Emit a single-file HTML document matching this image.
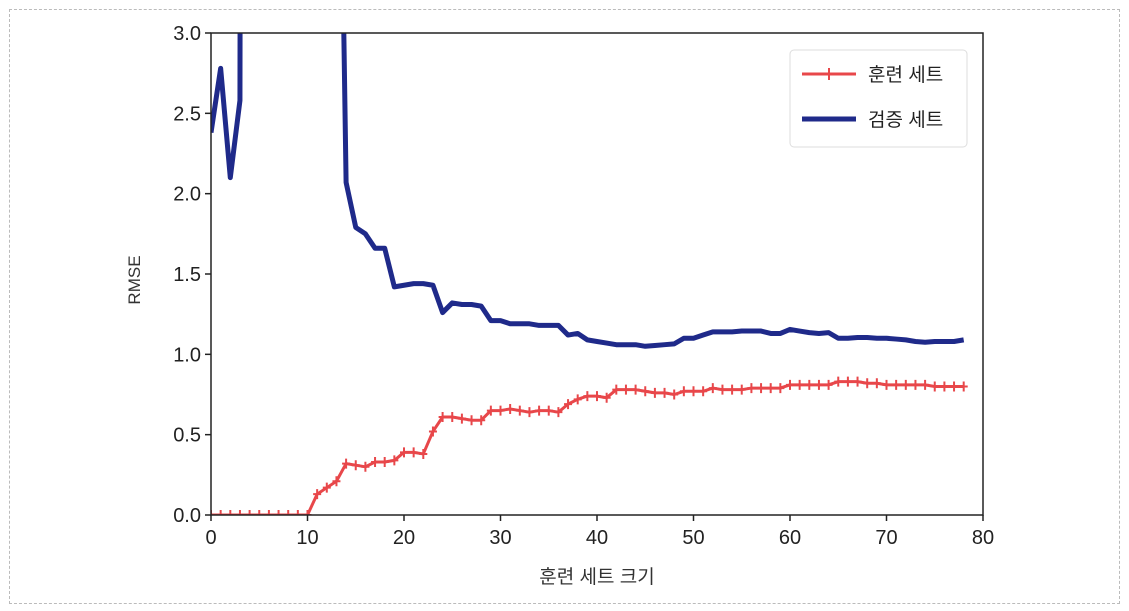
<!DOCTYPE html>
<html><head><meta charset="utf-8"><style>
html,body{margin:0;padding:0;background:#fff;}
body{width:1129px;height:611px;overflow:hidden;font-family:"Liberation Sans","Noto Sans CJK KR",sans-serif;}
.frame{position:absolute;left:9px;top:9px;width:1109px;height:593px;border:1px dashed #bbb;}
</style></head><body>
<div class="frame"></div>
<svg id="chart" width="1129" height="611" style="position:absolute;left:0;top:0">
<defs><clipPath id="clip"><rect x="211" y="33" width="772" height="482"/></clipPath></defs>
<g id="plot" clip-path="url(#clip)"></g>
<g id="axes"></g>
</svg>
<script>
const xValues = Array.from({length:79},(_,i)=>i);
const trainRmse = [0,0,0,0,0,0,0,0,0,0,0,0.13,0.17,0.21,0.32,0.31,0.30,0.33,0.33,0.34,0.39,0.39,0.38,0.52,0.61,0.61,0.60,0.59,0.59,0.65,0.65,0.66,0.65,0.64,0.65,0.65,0.64,0.69,0.72,0.74,0.74,0.73,0.78,0.78,0.78,0.77,0.76,0.76,0.75,0.77,0.77,0.77,0.79,0.78,0.78,0.78,0.79,0.79,0.79,0.79,0.81,0.81,0.81,0.81,0.81,0.83,0.83,0.83,0.82,0.82,0.81,0.81,0.81,0.81,0.81,0.80,0.80,0.80,0.80];
const valRmse = [2.38,2.78,2.10,2.58,40,30,25,20,18,15,12,10,8,6,2.07,1.79,1.75,1.66,1.66,1.42,1.43,1.44,1.44,1.43,1.26,1.32,1.31,1.31,1.30,1.21,1.21,1.19,1.19,1.19,1.18,1.18,1.18,1.12,1.13,1.09,1.08,1.07,1.06,1.06,1.06,1.05,1.055,1.06,1.065,1.10,1.10,1.12,1.14,1.14,1.14,1.145,1.145,1.145,1.13,1.13,1.155,1.145,1.135,1.13,1.135,1.10,1.10,1.105,1.105,1.10,1.10,1.095,1.09,1.08,1.075,1.08,1.08,1.08,1.09];
const xTicks = [0,10,20,30,40,50,60,70,80];
const yTicks = [0,0.5,1.0,1.5,2.0,2.5,3.0];
const X0=211,X1=983,Y0=515,Y1=33;
const sx=v=>X0+(v-0)/80*(X1-X0);
const sy=v=>Y0-(v-0)/3*(Y0-Y1);
const NS='http://www.w3.org/2000/svg';
function mk(tag,attrs,parent){const e=document.createElementNS(NS,tag);for(const k in attrs)e.setAttribute(k,attrs[k]);parent.appendChild(e);return e;}
const plot=document.getElementById('plot'),axes=document.getElementById('axes');
// validation
const vp=mk('polyline',{points:xValues.map((x,i)=>sx(x)+','+sy(Math.min(valRmse[i],50))).join(' '),fill:'none',stroke:'#1f2a8a','stroke-width':5,'stroke-linejoin':'round'},plot);


const tp=mk('polyline',{points:xValues.map((x,i)=>sx(x)+','+sy(trainRmse[i])).join(' '),fill:'none',stroke:'#e8474a','stroke-width':3,'stroke-linejoin':'round'},plot);


xValues.forEach((x,i)=>{
  const px=sx(x),py=sy(trainRmse[i]);
  const m=mk('path',{d:`M${px-4},${py}H${px+4}M${px},${py-5}V${py+5}`,stroke:'#e8474a','stroke-width':2},plot);
  
  
});
const fr=mk('rect',{x:X0,y:Y1,width:X1-X0,height:Y0-Y1,fill:'none',stroke:'#222','stroke-width':1.5},axes);


xTicks.forEach(t=>{
  mk('line',{x1:sx(t),x2:sx(t),y1:Y0,y2:Y0+6,stroke:'#222','stroke-width':1.5},axes);
  const l=mk('text',{x:sx(t),y:Y0+29,'text-anchor':'middle','font-size':20,fill:'#222'},axes);
  l.textContent=t;
  
  
});
yTicks.forEach(t=>{
  mk('line',{x1:X0-6,x2:X0,y1:sy(t),y2:sy(t),stroke:'#222','stroke-width':1.5},axes);
  const l=mk('text',{x:X0-10,y:sy(t)+7,'text-anchor':'end','font-size':20,fill:'#222'},axes);
  l.textContent=t.toFixed(1);
  
  
});
const xl=mk('text',{x:597,y:583,'text-anchor':'middle','font-size':19,fill:'#333'},axes);
xl.textContent='훈련 세트 크기';


const yl=mk('text',{x:140,y:280,'text-anchor':'middle','font-size':17,fill:'#333',transform:'rotate(-90 140 280)'},axes);
yl.textContent='RMSE';


const lg=mk('g',{},axes);


mk('rect',{x:790,y:50,width:177,height:97,rx:4,fill:'#fff',stroke:'#ddd'},lg);
mk('line',{x1:802,x2:856,y1:74,y2:74,stroke:'#e8474a','stroke-width':3},lg);
mk('path',{d:'M829,68V80',stroke:'#e8474a','stroke-width':2},lg);
const t1=mk('text',{x:868,y:81,'font-size':19,fill:'#222'},lg);t1.textContent='훈련 세트';


mk('line',{x1:802,x2:856,y1:119,y2:119,stroke:'#1f2a8a','stroke-width':5},lg);
const t2=mk('text',{x:868,y:126,'font-size':19,fill:'#222'},lg);t2.textContent='검증 세트';


</script>
</body></html>
